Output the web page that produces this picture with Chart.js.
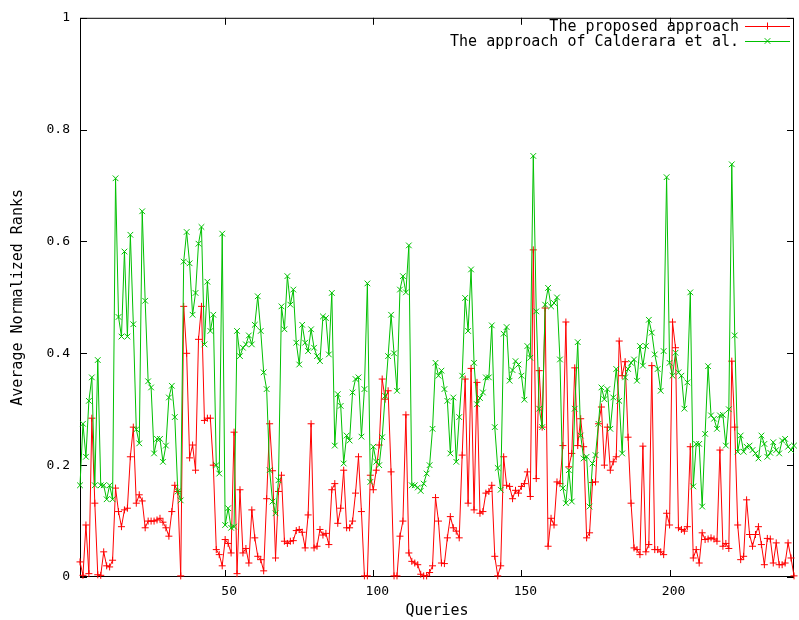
<!DOCTYPE html>
<html lang="en">
  <head>
    <meta charset="UTF-8" />
    <title>Average Normalized Ranks</title>
    <style>
      html,
      body {
        margin: 0;
        padding: 0;
        background: #fff;
      }
      #wrap {
        width: 799px;
        height: 620px;
      }
    </style>
  </head>
  <body>
    <div id="wrap"><canvas id="myChart" width="799" height="620"></canvas></div>

    <script src="https://cdn.jsdelivr.net/npm/chart.js@4.4.1/dist/chart.umd.min.js"></script>

    <!--Chart data, one value per query-->
    <script>
      var seriesNames = ["The proposed approach", "The approach of Calderara et al."];

      var proposed = [
        0.027, 0.003, 0.093, 0.006, 0.284, 0.132, 0.004, 0.003, 0.045, 0.02, 0.018, 0.03,
        0.159, 0.117, 0.09, 0.12, 0.123, 0.215, 0.268, 0.132, 0.147, 0.136, 0.088, 0.1,
        0.1, 0.1, 0.102, 0.105, 0.098, 0.088, 0.073, 0.117, 0.164, 0.153, 0.002, 0.484,
        0.4, 0.213, 0.236, 0.191, 0.425, 0.484, 0.28, 0.284, 0.284, 0.2, 0.049, 0.04, 0.02,
        0.067, 0.06, 0.043, 0.259, 0.006, 0.156, 0.043, 0.051, 0.025, 0.12, 0.07, 0.037,
        0.031, 0.011, 0.14, 0.274, 0.19, 0.034, 0.153, 0.182, 0.064, 0.06, 0.064, 0.065, 0.083,
        0.085, 0.08, 0.052, 0.111, 0.274, 0.052, 0.055, 0.085, 0.075, 0.078, 0.058, 0.156,
        0.167, 0.096, 0.123, 0.191, 0.088, 0.088, 0.1, 0.15, 0.215, 0.117, 0.002,
        0.002, 0.182, 0.156, 0.191, 0.236, 0.354, 0.318, 0.333, 0.188, 0.002, 0.002, 0.073,
        0.1, 0.29, 0.043, 0.028, 0.025, 0.022, 0.005, 0.002, 0.002, 0.008, 0.02, 0.142, 0.1,
        0.025, 0.024, 0.07, 0.108, 0.088, 0.082, 0.07, 0.218, 0.354, 0.132, 0.373, 0.12,
        0.348, 0.114, 0.117, 0.15, 0.153, 0.164, 0.037, 0.002, 0.02, 0.215, 0.164, 0.162,
        0.14, 0.155, 0.15, 0.162, 0.167, 0.188, 0.144, 0.585, 0.176, 0.369, 0.268, 0.481,
        0.055, 0.105, 0.093, 0.17, 0.167, 0.235, 0.456, 0.197, 0.221, 0.374, 0.235, 0.283, 0.233,
        0.07, 0.079, 0.169, 0.17, 0.274, 0.304, 0.2, 0.268, 0.191, 0.206, 0.215, 0.422,
        0.36, 0.385, 0.25, 0.132, 0.052, 0.049, 0.04, 0.234, 0.045, 0.058, 0.378, 0.049,
        0.049, 0.045, 0.04, 0.114, 0.093, 0.456, 0.41, 0.088, 0.085, 0.082, 0.09, 0.233,
        0.034, 0.049, 0.025, 0.079, 0.067, 0.068, 0.07, 0.068, 0.064, 0.227, 0.055, 0.06,
        0.051, 0.386, 0.268, 0.093, 0.031, 0.037, 0.138, 0.076, 0.055, 0.076, 0.09, 0.058,
        0.022, 0.069, 0.068, 0.025, 0.061, 0.022, 0.022, 0.025, 0.061, 0.034, 0.002
      ];

      var calderara = [
        0.164, 0.274, 0.215, 0.315, 0.357, 0.164, 0.388, 0.164, 0.164, 0.139, 0.164, 0.139,
        0.713, 0.465, 0.43, 0.582, 0.43, 0.612, 0.452, 0.264, 0.239, 0.654, 0.494, 0.35,
        0.339, 0.221, 0.247, 0.247, 0.206, 0.235, 0.321, 0.342, 0.286, 0.153, 0.137, 0.564,
        0.617, 0.561, 0.469, 0.508, 0.596, 0.626, 0.416, 0.528, 0.44, 0.469, 0.2, 0.185, 0.614,
        0.093, 0.123, 0.088, 0.09, 0.44, 0.395, 0.41, 0.416, 0.432, 0.416, 0.451, 0.502,
        0.44, 0.366, 0.336, 0.191, 0.135, 0.114, 0.173, 0.484, 0.443, 0.538, 0.487, 0.514, 0.419,
        0.38, 0.451, 0.419, 0.404, 0.443, 0.41, 0.395, 0.386, 0.466, 0.463, 0.398, 0.508,
        0.235, 0.327, 0.306, 0.203, 0.253, 0.244, 0.33, 0.354, 0.357, 0.251, 0.336,
        0.525, 0.17, 0.233, 0.206, 0.2, 0.25, 0.324, 0.395, 0.469, 0.4, 0.333, 0.514,
        0.538, 0.509, 0.593, 0.164, 0.164, 0.16, 0.154, 0.167, 0.185, 0.2, 0.265, 0.383, 0.36,
        0.369, 0.336, 0.315, 0.221, 0.321, 0.206, 0.286, 0.36, 0.499, 0.44, 0.55, 0.383,
        0.309, 0.32, 0.33, 0.357, 0.357, 0.45, 0.268, 0.195, 0.156, 0.435, 0.447, 0.351,
        0.37, 0.386, 0.38, 0.36, 0.317, 0.413, 0.392, 0.753, 0.475, 0.301, 0.268, 0.487,
        0.517, 0.484, 0.49, 0.5, 0.389, 0.159, 0.132, 0.191, 0.135, 0.301, 0.42, 0.253, 0.212,
        0.215, 0.126, 0.203, 0.218, 0.274, 0.339, 0.318, 0.336, 0.265, 0.321, 0.372, 0.315,
        0.221, 0.357, 0.372, 0.383, 0.389, 0.351, 0.413, 0.378, 0.413, 0.46, 0.437, 0.398,
        0.372, 0.333, 0.404, 0.715, 0.383, 0.36, 0.401, 0.366, 0.36, 0.301, 0.348, 0.509,
        0.162, 0.238, 0.238, 0.126, 0.256, 0.377, 0.289, 0.283, 0.265, 0.289, 0.29, 0.235,
        0.3, 0.738, 0.432, 0.224, 0.253, 0.224, 0.233, 0.235, 0.227, 0.221, 0.212, 0.253,
        0.238, 0.215, 0.222, 0.241, 0.227, 0.221, 0.244, 0.247, 0.233, 0.227, 0.235
      ];

      var xTicks = [50, 100, 150, 200];
      var yTicks = [0, 0.2, 0.4, 0.6, 0.8, 1];

      // query numbers 1..N
      var queries = proposed.map(function (v, i) {
        return i + 1;
      });
    </script>

    <!--Chart building-->
    <script>
      var RED = "#ff0000";
      var GREEN = "#00c000";
      var FONT = "'DejaVu Sans Mono', 'Liberation Mono', monospace";

      function toPoints(values) {
        return values.map(function (v, i) {
          return { x: queries[i], y: v };
        });
      }

      // gnuplot style box with inward ticks on all four sides
      var framePlugin = {
        id: "frame",
        beforeDatasetsDraw: function (chart) {
          var a = chart.chartArea;
          var ctx = chart.ctx;
          var xs = chart.scales.x;
          var ys = chart.scales.y;
          ctx.save();
          ctx.strokeStyle = "#000";
          ctx.lineWidth = 1;
          ctx.strokeRect(a.left + 0.5, a.top + 0.5, a.right - a.left - 1, a.bottom - a.top - 1);
          ctx.beginPath();
          xTicks.forEach(function (t) {
            var px = Math.round(xs.getPixelForValue(t)) + 0.5;
            ctx.moveTo(px, a.bottom);
            ctx.lineTo(px, a.bottom - 7);
            ctx.moveTo(px, a.top);
            ctx.lineTo(px, a.top + 7);
          });
          yTicks.forEach(function (t) {
            var py = Math.round(ys.getPixelForValue(t)) + 0.5;
            ctx.moveTo(a.left, py);
            ctx.lineTo(a.left + 7, py);
            ctx.moveTo(a.right, py);
            ctx.lineTo(a.right - 7, py);
          });
          ctx.stroke();
          ctx.restore();
        },
      };

      // key in the top right corner: text, then line sample with its marker
      var keyPlugin = {
        id: "key",
        afterDraw: function (chart) {
          var ctx = chart.ctx;
          var a = chart.chartArea;
          ctx.save();
          ctx.font = "15px " + FONT;
          ctx.textAlign = "right";
          ctx.textBaseline = "middle";
          chart.data.datasets.forEach(function (ds, i) {
            var y = 26 + i * 15;
            var x1 = a.right - 49;
            var x2 = a.right - 4;
            var cx = (x1 + x2) / 2;
            ctx.fillStyle = "#000";
            ctx.fillText(ds.label, x1 - 6, y + 1);
            ctx.strokeStyle = ds.borderColor;
            ctx.lineWidth = 1;
            ctx.beginPath();
            ctx.moveTo(x1, y + 0.5);
            ctx.lineTo(x2, y + 0.5);
            var r = ds.pointRadius;
            if (ds.pointStyle === "cross") {
              ctx.moveTo(cx, y - r);
              ctx.lineTo(cx, y + r);
            } else {
              var d = r * 0.707;
              ctx.moveTo(cx - d, y - d);
              ctx.lineTo(cx + d, y + d);
              ctx.moveTo(cx - d, y + d);
              ctx.lineTo(cx + d, y - d);
            }
            ctx.stroke();
          });
          ctx.restore();
        },
      };

      var ctx = document.getElementById("myChart").getContext("2d");
      var myChart = new Chart(ctx, {
        type: "line",
        data: {
          datasets: [
            {
              label: seriesNames[0],
              data: toPoints(proposed),
              borderColor: RED,
              backgroundColor: RED,
              borderWidth: 1,
              pointStyle: "cross",
              pointRadius: 3.5,
              pointBorderWidth: 1,
              pointBorderColor: RED,
              tension: 0,
              clip: false,
              order: 1,
            },
            {
              label: seriesNames[1],
              data: toPoints(calderara),
              borderColor: GREEN,
              backgroundColor: GREEN,
              borderWidth: 1,
              pointStyle: "crossRot",
              pointRadius: 4,
              pointBorderWidth: 1,
              pointBorderColor: GREEN,
              tension: 0,
              clip: false,
              order: 0,
            },
          ],
        },
        options: {
          responsive: false,
          animation: false,
          layout: { padding: { top: 14, right: 2, left: 0, bottom: 0 } },
          plugins: {
            legend: { display: false },
            tooltip: { enabled: false },
          },
          scales: {
            x: {
              type: "linear",
              min: 1,
              max: 242,
              grid: { display: false, drawTicks: false },
              border: { display: false },
              afterBuildTicks: function (scale) {
                scale.ticks = xTicks.map(function (v) {
                  return { value: v };
                });
              },
              afterFit: function (scale) {
                scale.height = 43;
              },
              ticks: {
                color: "#000",
                padding: 7,
                labelOffset: 4,
                maxRotation: 0,
                font: { family: FONT, size: 13 },
              },
              title: {
                display: true,
                text: "Queries",
                color: "#000",
                font: { family: FONT, size: 15, lineHeight: 1 },
                padding: { top: 0, bottom: 1 },
              },
            },
            y: {
              min: 0,
              max: 1,
              grid: { display: false, drawTicks: false },
              border: { display: false },
              afterBuildTicks: function (scale) {
                scale.ticks = yTicks.map(function (v) {
                  return { value: v };
                });
              },
              afterFit: function (scale) {
                scale.width = 80;
              },
              ticks: {
                color: "#000",
                padding: 10,
                font: { family: FONT, size: 13 },
                callback: function (v) {
                  return String(v);
                },
              },
              title: {
                display: true,
                text: "Average Normalized Ranks",
                color: "#000",
                font: { family: FONT, size: 15, lineHeight: 1.2 },
                padding: { top: 9, bottom: 0 },
              },
            },
          },
        },
        plugins: [framePlugin, keyPlugin],
      });
    </script>
  </body>
</html>
